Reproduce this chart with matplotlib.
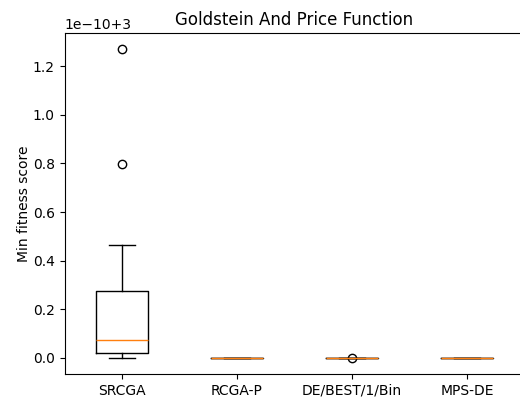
import matplotlib
matplotlib.use("Agg")
import matplotlib.pyplot as plt

# min fitness scores, expressed as offsets from 3 in units of 1e-10
algorithms = ['SRCGA', 'RCGA-P', 'DE/BEST/1/Bin', 'MPS-DE']
whis_low = [0.0, 0.0, 0.0, 0.0]
q1 = [0.02, 0.0, 0.0, 0.0]
medians = [0.074, 0.0, 0.0, 0.0]
q3 = [0.275, 0.0, 0.0, 0.0]
whis_high = [0.466, 0.0, 0.0, 0.0]
outliers = [[0.796, 1.272], [], [0.0], []]

base = 3.0
scale = 1e-10

stats = []
for i, name in enumerate(algorithms):
    stats.append({
        'label': name,
        'whislo': base + whis_low[i] * scale,
        'q1': base + q1[i] * scale,
        'med': base + medians[i] * scale,
        'q3': base + q3[i] * scale,
        'whishi': base + whis_high[i] * scale,
        'fliers': [base + v * scale for v in outliers[i]],
    })

fig = plt.figure(figsize=(5.2, 3.97), dpi=100)
# axes runs past the right edge, as in the cropped original
ax = fig.add_axes([64.5 / 520, 23 / 397, 460 / 520, 341 / 397])
ax.bxp(stats)
ax.set_ylim(base - 0.066 * scale, base + 1.336 * scale)
ax.set_title('Goldstein And Price Function')
ax.set_ylabel('Min fitness score', labelpad=1)

fig.savefig('out.png', dpi=100)
